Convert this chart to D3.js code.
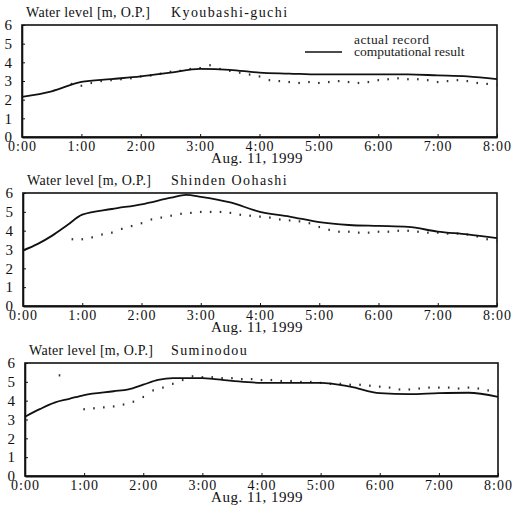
<!DOCTYPE html>
<html>
<head>
<meta charset="utf-8">
<script src="https://cdn.jsdelivr.net/npm/d3@7"></script>
<style>
  body { margin: 0; background: #fff; }
  svg { display: block; font-family: "Liberation Serif", "DejaVu Serif", serif; }
</style>
</head>
<body>
<div id="chart"></div>
<script>
// water level hydrographs, Aug. 11 1999 (times as "h:mm")
const hourTicks = ["0:00", "1:00", "2:00", "3:00", "4:00", "5:00", "6:00", "7:00", "8:00"];
const levelTicks = [0, 1, 2, 3, 4, 5, 6];
const dateLabel = "Aug. 11, 1999";
const yLabel = "Water level [m, O.P.]";
const stations = ["Kyoubashi-guchi", "Shinden Oohashi", "Suminodou"];

// computational result (solid line)
const kyoubashiCalc = [["0:00",2.15],["0:30",2.45],["1:00",2.95],["1:30",3.1],["2:00",3.25],["2:30",3.45],["3:00",3.65],
  ["3:30",3.6],["4:00",3.45],["4:30",3.4],["5:00",3.35],["5:30",3.35],["6:00",3.35],["6:30",3.35],["7:00",3.3],["7:30",3.25],["8:00",3.1]];
const shindenCalc = [["0:00",2.95],["0:15",3.3],["0:30",3.75],["0:45",4.3],["1:00",4.85],["1:30",5.15],["2:00",5.4],["2:30",5.75],
  ["2:45",5.9],["3:00",5.8],["3:30",5.5],["4:00",5.0],["4:30",4.75],["5:00",4.45],["5:30",4.3],["6:00",4.25],["6:30",4.2],
  ["7:00",3.95],["7:30",3.8],["8:00",3.6]];
const suminodouCalc = [["0:00",3.15],["0:15",3.55],["0:30",3.9],["0:45",4.1],["1:00",4.3],["1:30",4.5],["1:45",4.6],["2:00",4.85],
  ["2:15",5.1],["2:30",5.2],["3:00",5.2],["3:30",5.05],["4:00",4.95],["4:30",4.95],["5:00",4.95],["5:30",4.75],["6:00",4.4],
  ["6:30",4.35],["7:00",4.4],["7:30",4.42],["8:00",4.2]];

// actual record (dots)
const kyoubashiRecord = [["0:50",2.85],["1:00",2.75],["1:10",2.9],["1:20",3.0],["1:30",3.05],["1:40",3.1],["1:50",3.15],["2:00",3.25],
  ["2:10",3.3],["2:20",3.4],["2:30",3.5],["2:40",3.55],["2:50",3.65],["3:00",3.7],["3:10",3.85],["3:20",3.65],["3:30",3.55],
  ["3:40",3.45],["3:50",3.35],["4:00",3.25],["4:10",3.05],["4:20",3.0],["4:30",2.95],["4:40",2.9],["4:50",2.95],["5:00",2.9],
  ["5:10",2.95],["5:20",3.0],["5:30",2.95],["5:40",2.9],["5:50",2.95],["6:00",3.05],["6:10",3.1],["6:20",3.15],["6:30",3.1],
  ["6:40",3.1],["6:50",3.05],["7:00",2.95],["7:10",3.0],["7:20",3.05],["7:30",3.0],["7:40",2.9],["7:50",2.85],["8:00",2.8]];
const shindenRecord = [["0:50",3.55],["1:00",3.55],["1:10",3.65],["1:20",3.8],["1:30",3.9],["1:40",4.1],["1:50",4.25],["2:00",4.4],
  ["2:10",4.6],["2:20",4.7],["2:30",4.8],["2:40",4.9],["2:50",4.95],["3:00",5.0],["3:10",5.0],["3:20",5.0],["3:30",4.95],
  ["3:40",4.85],["3:50",4.8],["4:00",4.75],["4:10",4.7],["4:20",4.6],["4:30",4.55],["4:40",4.5],["4:50",4.4],["5:00",4.2],
  ["5:10",4.05],["5:20",3.95],["5:30",3.95],["5:40",3.9],["5:50",3.9],["6:00",3.95],["6:10",3.95],["6:20",4.0],["6:30",4.0],
  ["6:40",3.95],["6:50",3.9],["7:00",3.9],["7:10",3.85],["7:20",3.85],["7:30",3.8],["7:40",3.7],["7:50",3.55],["8:00",3.45]];
const suminodouRecord = [["0:35",5.35],["1:00",3.55],["1:10",3.6],["1:20",3.65],["1:30",3.7],["1:40",3.8],["1:50",3.95],["2:00",4.2],
  ["2:10",4.55],["2:20",4.7],["2:30",4.9],["2:40",5.1],["2:50",5.3],["3:00",5.25],["3:10",5.25],["3:20",5.2],["3:30",5.2],
  ["3:40",5.15],["3:50",5.15],["4:00",5.1],["4:10",5.1],["4:20",5.05],["4:30",5.05],["4:40",5.0],["4:50",5.0],["5:00",4.95],
  ["5:10",4.9],["5:20",4.9],["5:30",4.85],["5:40",4.85],["5:50",4.8],["6:00",4.75],["6:10",4.7],["6:20",4.6],["6:30",4.6],
  ["6:40",4.65],["6:50",4.7],["7:00",4.7],["7:10",4.7],["7:20",4.65],["7:30",4.7],["7:40",4.65],["7:50",4.55],["8:00",4.5]];

const calcSeries = [kyoubashiCalc, shindenCalc, suminodouCalc];
const recordSeries = [kyoubashiRecord, shindenRecord, suminodouRecord];

const W = 513, H = 509;
// frame of each panel
const frames = [
  { left: 22, right: 497, top: 25, bottom: 137 },
  { left: 23, right: 497, top: 193, bottom: 306 },
  { left: 25, right: 498, top: 363, bottom: 476 }
];

const toMin = s => { const [h, m] = s.split(":").map(Number); return h * 60 + m; };

const svg = d3.select("#chart").append("svg")
  .attr("width", W).attr("height", H);

frames.forEach((f, i) => {
  const x = d3.scaleLinear().domain([0, toMin("8:00")]).range([f.left, f.right]);
  const y = d3.scaleLinear().domain([0, 6]).range([f.bottom, f.top]);
  const g = svg.append("g");

  // title
  g.append("text").attr("x", f.left + 4).attr("y", f.top - 8)
    .style("font-size", "14px").style("letter-spacing", "0.3px")
    .style("fill", "#111").text(yLabel);
  g.append("text").attr("x", 171).attr("y", f.top - 8)
    .style("font-size", "14px").style("letter-spacing", "1.4px")
    .style("fill", "#111").text(stations[i]);

  // frame
  g.append("rect")
    .attr("x", f.left).attr("y", f.top)
    .attr("width", f.right - f.left).attr("height", f.bottom - f.top)
    .attr("fill", "none").attr("stroke", "#111").attr("stroke-width", 1.6);

  // x axis (ticks inward)
  const xAxis = d3.axisBottom(x)
    .tickValues(hourTicks.map(toMin))
    .tickFormat((d, k) => hourTicks[k])
    .tickSizeInner(-3).tickSizeOuter(0).tickPadding(4);
  const xg = g.append("g").attr("transform", `translate(0,${f.bottom})`).call(xAxis);
  xg.select(".domain").attr("stroke", "#111").attr("stroke-width", 2);
  xg.selectAll(".tick line").attr("stroke", "#111");
  xg.selectAll("text").style("font-size", "14px").style("letter-spacing", "1px")
    .style("fill", "#111").style("font-family", "Liberation Serif, serif");

  // y axis (ticks inward)
  const yAxis = d3.axisLeft(y).tickValues(levelTicks).tickFormat(d3.format("d"))
    .tickSizeInner(-3).tickSizeOuter(0).tickPadding(10);
  const yg = g.append("g").attr("transform", `translate(${f.left},0)`).call(yAxis);
  yg.select(".domain").attr("stroke", "#111").attr("stroke-width", 1.6);
  yg.selectAll(".tick line").attr("stroke", "#111");
  yg.selectAll("text").style("font-size", "15px")
    .style("fill", "#111").style("font-family", "Liberation Serif, serif");

  // date label
  g.append("text").attr("x", 257).attr("y", f.bottom + 26)
    .attr("text-anchor", "middle")
    .style("font-size", "15px").style("letter-spacing", "0.5px")
    .style("fill", "#111").text(dateLabel);

  // actual record dots
  g.selectAll(".rec").data(recordSeries[i]).enter().append("rect")
    .attr("class", "rec")
    .attr("x", d => x(toMin(d[0])) - 0.8)
    .attr("y", d => y(d[1]) - 1)
    .attr("width", 1.6).attr("height", 2.2)
    .attr("fill", "#333");

  // computational result line
  const line = d3.line()
    .x(d => x(toMin(d[0])))
    .y(d => y(d[1]))
    .curve(d3.curveMonotoneX);
  g.append("path").datum(calcSeries[i])
    .attr("d", line)
    .attr("fill", "none").attr("stroke", "#111").attr("stroke-width", 1.8);
});

// legend (top panel)
const leg = svg.append("g");
leg.append("text").attr("x", 354).attr("y", 44)
  .style("font-size", "13.5px").style("letter-spacing", "0.4px")
  .style("fill", "#222").text("actual record");
leg.append("line").attr("x1", 305).attr("x2", 342).attr("y1", 52).attr("y2", 52)
  .attr("stroke", "#111").attr("stroke-width", 1.6);
leg.append("text").attr("x", 354).attr("y", 56)
  .style("font-size", "13.5px").style("fill", "#222").text("computational result");
</script>
</body>
</html>
